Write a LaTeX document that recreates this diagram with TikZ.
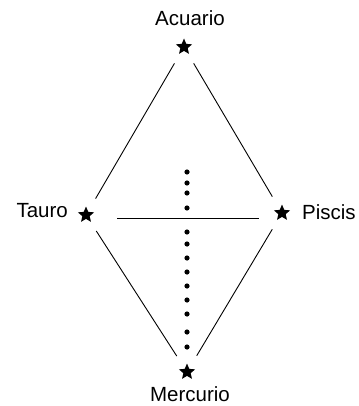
\documentclass[tikz,border=0pt]{standalone}
\usepackage{fontspec}
\setmainfont{Liberation Sans}
\usetikzlibrary{positioning,shapes.geometric}

\begin{document}
\begin{tikzpicture}[x=1pt,y=-1pt,
  estrella/.style={star,star points=5,star point ratio=2.2,fill=black,inner sep=0pt,minimum size=17pt},
  nombre/.style={font=\fontsize{20.5}{23}\selectfont,inner sep=0pt},
  lado/.style={line width=0.9pt,shorten <=19pt,shorten >=19pt}]
\useasboundingbox (0,0) rectangle (358,406);
\node[estrella] (acuario) at (184,47) {};
\node[estrella] (tauro) at (86,215) {};
\node[estrella] (piscis) at (282,213) {};
\node[estrella] (mercurio) at (187,372) {};
\node[nombre,anchor=base] (lacuario) at ([xshift=6pt,yshift=21pt]acuario.center) {Acuario};
\node[nombre,anchor=base east] (ltauro) at ([xshift=-18pt,yshift=-2pt]tauro.center) {Tauro};
\node[nombre,anchor=base west] (lpiscis) at ([xshift=20pt,yshift=-6pt]piscis.center) {Piscis};
\node[nombre,anchor=base] (lmercurio) at ([xshift=3pt,yshift=-29pt]mercurio.center) {Mercurio};
\draw[lado] (acuario.center) -- (tauro.center);
\draw[lado] (acuario.center) -- (piscis.center);
\draw[lado] (tauro.center) -- (mercurio.center);
\draw[lado] (piscis.center) -- (mercurio.center);
\draw[line width=0.9pt,shorten <=31pt,shorten >=23pt] ([yshift=-3pt]tauro.center) -- ([yshift=-3pt]tauro.center -| piscis.center);
\foreach \y in {172,183,193,208,232,244,258,272,286,300,314,332,347}
  \fill (187,\y) circle (2.6);
\end{tikzpicture}
\end{document}
